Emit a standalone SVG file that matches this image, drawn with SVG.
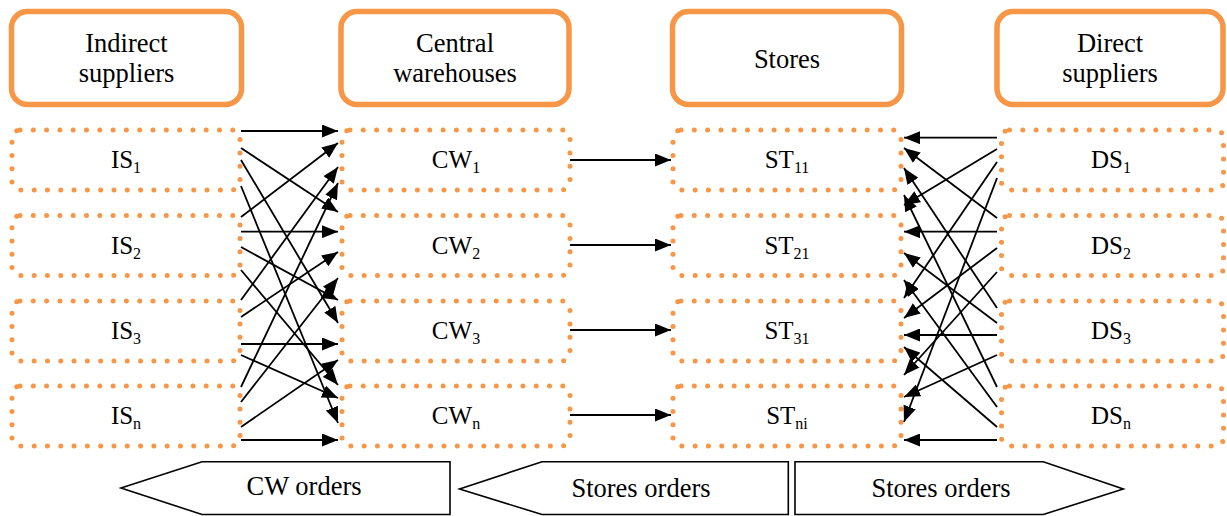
<svg xmlns="http://www.w3.org/2000/svg" width="1227" height="516" viewBox="0 0 1227 516">
<style>
.hdr{fill:#fff;stroke:#F79646;stroke-width:5.5}
.dot{fill:none;stroke:#F79646;stroke-width:5;stroke-dasharray:0 13.3;stroke-linecap:round}
.t{font-family:"Liberation Serif","Times New Roman",serif;font-size:26.5px;fill:#000;text-anchor:middle}
.n{font-family:"Liberation Serif","Times New Roman",serif;font-size:25px;fill:#000;text-anchor:middle}
.sub{font-size:16px}
.c line{stroke:#000;stroke-width:1.8;marker-end:url(#ah)}
.ord{fill:#fff;stroke:#000;stroke-width:1.6}
</style>
<defs>
<marker id="ah" markerUnits="userSpaceOnUse" markerWidth="16" markerHeight="13" refX="16" refY="6.5" orient="auto">
<path d="M0,0 L16,6.5 L0,13 Z" fill="#000"/>
</marker>
</defs>
<rect width="1227" height="516" fill="#fff"/>

<g id="hdr-indirect"><rect class="hdr" x="11.5" y="11.5" width="230" height="93" rx="16"/><text class="t" x="126.5" y="52">Indirect</text><text class="t" x="126.5" y="82">suppliers</text></g>
<g id="hdr-central"><rect class="hdr" x="341" y="11.5" width="228" height="93" rx="16"/><text class="t" x="455" y="52">Central</text><text class="t" x="455" y="82">warehouses</text></g>
<g id="hdr-stores"><rect class="hdr" x="672.5" y="11.5" width="229" height="93" rx="16"/><text class="t" x="787" y="68">Stores</text></g>
<g id="hdr-direct"><rect class="hdr" x="997" y="11.5" width="226" height="93" rx="16"/><text class="t" x="1110" y="52">Direct</text><text class="t" x="1110" y="82">suppliers</text></g>

<g id="IS1"><rect class="dot" x="12" y="130" width="228" height="60" rx="8"/><text class="n" x="126" y="168">IS<tspan class="sub" dy="5">1</tspan></text></g>
<g id="IS2"><rect class="dot" x="12" y="215.5" width="228" height="60" rx="8"/><text class="n" x="126" y="253.5">IS<tspan class="sub" dy="5">2</tspan></text></g>
<g id="IS3"><rect class="dot" x="12" y="301" width="228" height="60" rx="8"/><text class="n" x="126" y="339">IS<tspan class="sub" dy="5">3</tspan></text></g>
<g id="ISn"><rect class="dot" x="12" y="386" width="228" height="60" rx="8"/><text class="n" x="126" y="424">IS<tspan class="sub" dy="5">n</tspan></text></g>

<g id="CW1"><rect class="dot" x="342" y="130" width="228" height="60" rx="8"/><text class="n" x="456" y="168">CW<tspan class="sub" dy="5">1</tspan></text></g>
<g id="CW2"><rect class="dot" x="342" y="215.5" width="228" height="60" rx="8"/><text class="n" x="456" y="253.5">CW<tspan class="sub" dy="5">2</tspan></text></g>
<g id="CW3"><rect class="dot" x="342" y="301" width="228" height="60" rx="8"/><text class="n" x="456" y="339">CW<tspan class="sub" dy="5">3</tspan></text></g>
<g id="CWn"><rect class="dot" x="342" y="386" width="228" height="60" rx="8"/><text class="n" x="456" y="424">CW<tspan class="sub" dy="5">n</tspan></text></g>

<g id="ST11"><rect class="dot" x="673" y="130" width="228" height="60" rx="8"/><text class="n" x="787" y="168">ST<tspan class="sub" dy="5">11</tspan></text></g>
<g id="ST21"><rect class="dot" x="673" y="215.5" width="228" height="60" rx="8"/><text class="n" x="787" y="253.5">ST<tspan class="sub" dy="5">21</tspan></text></g>
<g id="ST31"><rect class="dot" x="673" y="301" width="228" height="60" rx="8"/><text class="n" x="787" y="339">ST<tspan class="sub" dy="5">31</tspan></text></g>
<g id="STni"><rect class="dot" x="673" y="386" width="228" height="60" rx="8"/><text class="n" x="787" y="424">ST<tspan class="sub" dy="5">ni</tspan></text></g>

<g id="DS1"><rect class="dot" x="1001.5" y="130" width="222" height="60" rx="8"/><text class="n" x="1111" y="168">DS<tspan class="sub" dy="5">1</tspan></text></g>
<g id="DS2"><rect class="dot" x="1001.5" y="215.5" width="222" height="60" rx="8"/><text class="n" x="1111" y="253.5">DS<tspan class="sub" dy="5">2</tspan></text></g>
<g id="DS3"><rect class="dot" x="1001.5" y="301" width="222" height="60" rx="8"/><text class="n" x="1111" y="339">DS<tspan class="sub" dy="5">3</tspan></text></g>
<g id="DSn"><rect class="dot" x="1001.5" y="386" width="222" height="60" rx="8"/><text class="n" x="1111" y="424">DS<tspan class="sub" dy="5">n</tspan></text></g>

<g id="connectors" class="c">
<line x1="241" y1="131" x2="338" y2="131"/>
<line x1="241" y1="148" x2="338" y2="212"/>
<line x1="241" y1="160" x2="338" y2="323"/>
<line x1="241" y1="186" x2="338" y2="423"/>
<line x1="241" y1="217" x2="338" y2="143"/>
<line x1="241" y1="231.7" x2="338" y2="231.7"/>
<line x1="241" y1="247" x2="338" y2="300"/>
<line x1="241" y1="270" x2="338" y2="385"/>
<line x1="241" y1="300" x2="338" y2="167"/>
<line x1="241" y1="317" x2="338" y2="252"/>
<line x1="241" y1="344" x2="338" y2="344"/>
<line x1="241" y1="355" x2="338" y2="398"/>
<line x1="241" y1="387" x2="338" y2="183"/>
<line x1="241" y1="402" x2="338" y2="278"/>
<line x1="241" y1="427" x2="338" y2="360"/>
<line x1="241" y1="440" x2="338" y2="440"/>

<line x1="570" y1="160" x2="671" y2="160"/>
<line x1="570" y1="245" x2="671" y2="245"/>
<line x1="570" y1="330" x2="671" y2="330"/>
<line x1="570" y1="415" x2="671" y2="415"/>

<line x1="997" y1="137.7" x2="904" y2="137.7"/>
<line x1="997" y1="149" x2="904" y2="205"/>
<line x1="997" y1="162" x2="904" y2="298"/>
<line x1="997" y1="178" x2="904" y2="422"/>
<line x1="997" y1="218" x2="904" y2="148"/>
<line x1="997" y1="231.7" x2="904" y2="231.7"/>
<line x1="997" y1="248" x2="904" y2="318"/>
<line x1="997" y1="272" x2="904" y2="375"/>
<line x1="997" y1="308" x2="904" y2="168"/>
<line x1="997" y1="323" x2="904" y2="253"/>
<line x1="997" y1="335" x2="904" y2="335"/>
<line x1="997" y1="355" x2="904" y2="397"/>
<line x1="997" y1="387" x2="904" y2="195"/>
<line x1="997" y1="407" x2="904" y2="280"/>
<line x1="997" y1="427" x2="904" y2="347"/>
<line x1="997" y1="440" x2="904" y2="440"/>
</g>

<g id="cw-orders"><path class="ord" d="M121,488 L202,461.7 L450,461.7 L450,514.5 L202,514.5 Z"/><text class="t" x="304" y="495">CW orders</text></g>
<g id="stores-orders-left"><path class="ord" d="M459.5,489 L542,461.7 L788.3,461.7 L788.3,514.5 L542,514.5 Z"/><text class="t" x="641" y="497">Stores orders</text></g>
<g id="stores-orders-right"><path class="ord" d="M795,461.7 L1043.3,461.7 L1123.3,489 L1043.3,514.5 L795,514.5 Z"/><text class="t" x="941" y="497">Stores orders</text></g>
</svg>
